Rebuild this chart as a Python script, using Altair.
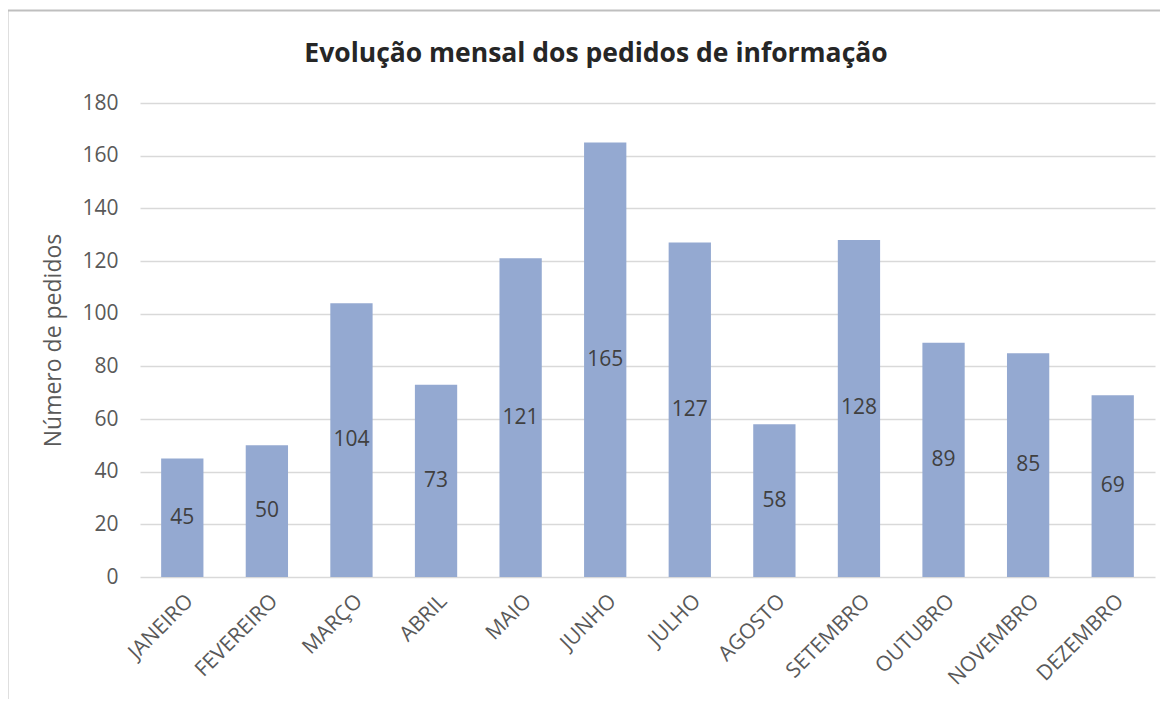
import altair as alt
import pandas as pd

months = ["JANEIRO", "FEVEREIRO", "MARÇO", "ABRIL", "MAIO", "JUNHO",
          "JULHO", "AGOSTO", "SETEMBRO", "OUTUBRO", "NOVEMBRO", "DEZEMBRO"]
values = [45, 50, 104, 73, 121, 165, 127, 58, 128, 89, 85, 69]
title_text = ["Evolução mensal dos pedidos de informação"]

df = pd.DataFrame({"mes": months, "pedidos": values})
tdf = pd.DataFrame({"t": title_text})

FONT = "Open Sans"
GRAY = "#595959"

base = alt.Chart(df)

x_enc = alt.X("mes:N", sort=months, title=None,
              scale=alt.Scale(paddingInner=0.5, paddingOuter=0.25),
              axis=alt.Axis(labelAngle=-45, labelAlign="right", labelBaseline="top",
                            labelFontSize=21, labelColor=GRAY, labelFont=FONT,
                            ticks=False, domain=False, labelPadding=13))
y_enc = alt.Y("pedidos:Q", title="Número de pedidos",
              scale=alt.Scale(domain=[0, 180], nice=False),
              axis=alt.Axis(values=list(range(0, 181, 20)), grid=True,
                            gridColor="#D9D9D9", gridWidth=1.5,
                            domain=False, ticks=False,
                            labelFontSize=21, labelColor=GRAY, labelFont=FONT,
                            labelPadding=22,
                            titleFontSize=23, titleColor=GRAY, titleFont=FONT,
                            titleFontWeight="normal", titlePadding=16))

bars = base.mark_bar(color="#94A9D1").encode(x=x_enc, y=y_enc)

labels = base.transform_calculate(mid="datum.pedidos / 2").mark_text(
    fontSize=21, color="#404040", font=FONT, baseline="middle"
).encode(x=alt.X("mes:N", sort=months), y=alt.Y("mid:Q"), text="pedidos:Q")

border = base.mark_rect(fill=None, stroke="#BFBFBF", strokeWidth=2).encode(
    x=alt.value(-132.5), x2=alt.value(1100), y=alt.value(-92.5), y2=alt.value(700)
).transform_filter("datum.mes == 'JANEIRO'")

title = alt.Chart(tdf).mark_text(
    font=FONT, fontSize=26.5, fontWeight="bold", color="#262626",
    align="center", baseline="alphabetic"
).encode(x=alt.value(456), y=alt.value(-41), text="t:N")

chart = alt.layer(border, bars, labels, title).properties(
    width=1015, height=474,
    autosize=alt.AutoSizeParams(type="none"),
    padding={"left": 132, "top": 95, "right": 5, "bottom": 122},
).configure_view(stroke=None)

chart.save("out.html", embed_options={"renderer": "svg", "actions": False})
